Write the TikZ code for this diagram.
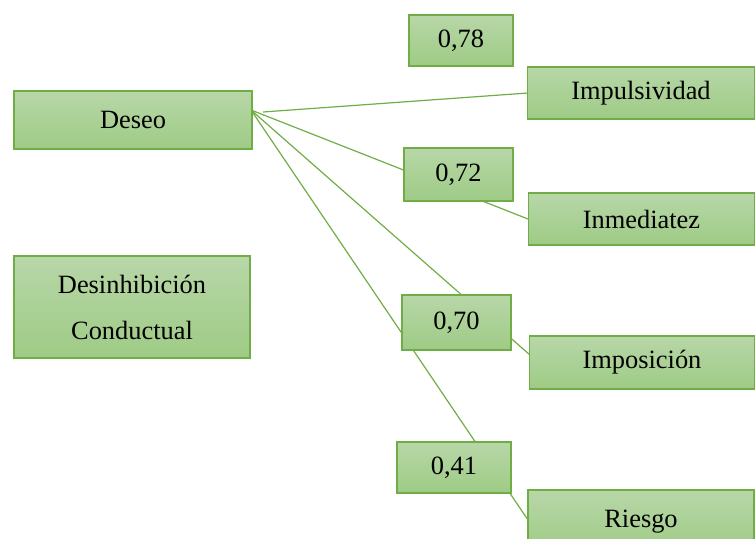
\documentclass[tikz,border=0pt]{standalone}
\usepackage{fontspec}
\setmainfont{Liberation Serif}
\usetikzlibrary{calc}
\definecolor{boxline}{RGB}{112,173,71}
\definecolor{boxtop}{RGB}{184,215,168}
\definecolor{boxbot}{RGB}{158,203,133}
\begin{document}
\begin{tikzpicture}[x=0.5pt,y=-0.5pt]
        \tikzset{vertex/.style = {shape=rectangle,draw=boxline,line width=0.8pt,top color=boxtop,bottom color=boxbot,align=center,inner sep=0pt,font=\fontsize{13.2}{23}\selectfont}}
        \tikzset{edge/.style = {draw=boxline,line width=0.6pt}}
        \useasboundingbox (0,0) rectangle (755,539);
        \coordinate (src) at (251,110);
        \coordinate (start) at (263,112);
        % lines go under the boxes
        \coordinate (e1) at (528,93);
        \coordinate (e2) at (528,219);
        \coordinate (e3) at (530,355);
        \coordinate (e4) at (528,520);
        \draw[edge] (start) -- (e1);
        \draw[edge] (src) -- (e2);
        \draw[edge] (src) -- (e3);
        \draw[edge] (src) -- (e4);
        \node[vertex,minimum width=119pt,minimum height=29pt] (deseo) at (133,120) {Deseo};
        \node[vertex,minimum width=118pt,minimum height=51pt] (desinh) at (132,307) {Desinhibición\\Conductual};
        \node[vertex,minimum width=52pt,minimum height=25.5pt] (v78) at (461,40.5) {0,78};
        \node[vertex,minimum width=113.5pt,minimum height=26pt] (impuls) at (641,93) {Impulsividad};
        \node[vertex,minimum width=54.5pt,minimum height=26.5pt] (v72) at (458.5,174.5) {0,72};
        \node[vertex,minimum width=113pt,minimum height=26pt] (inmed) at (641.5,219) {Inmediatez};
        \node[vertex,minimum width=54.5pt,minimum height=27.5pt] (v70) at (456.5,322.5) {0,70};
        \node[vertex,minimum width=112.5pt,minimum height=26.5pt] (impos) at (642,362.5) {Imposición};
        \node[vertex,minimum width=57pt,minimum height=25.5pt] (v41) at (454,467.5) {0,41};
        \node[vertex,minimum width=113pt,minimum height=32pt] (riesgo) at (641,522) {Riesgo};
    \end{tikzpicture}
\end{document}
